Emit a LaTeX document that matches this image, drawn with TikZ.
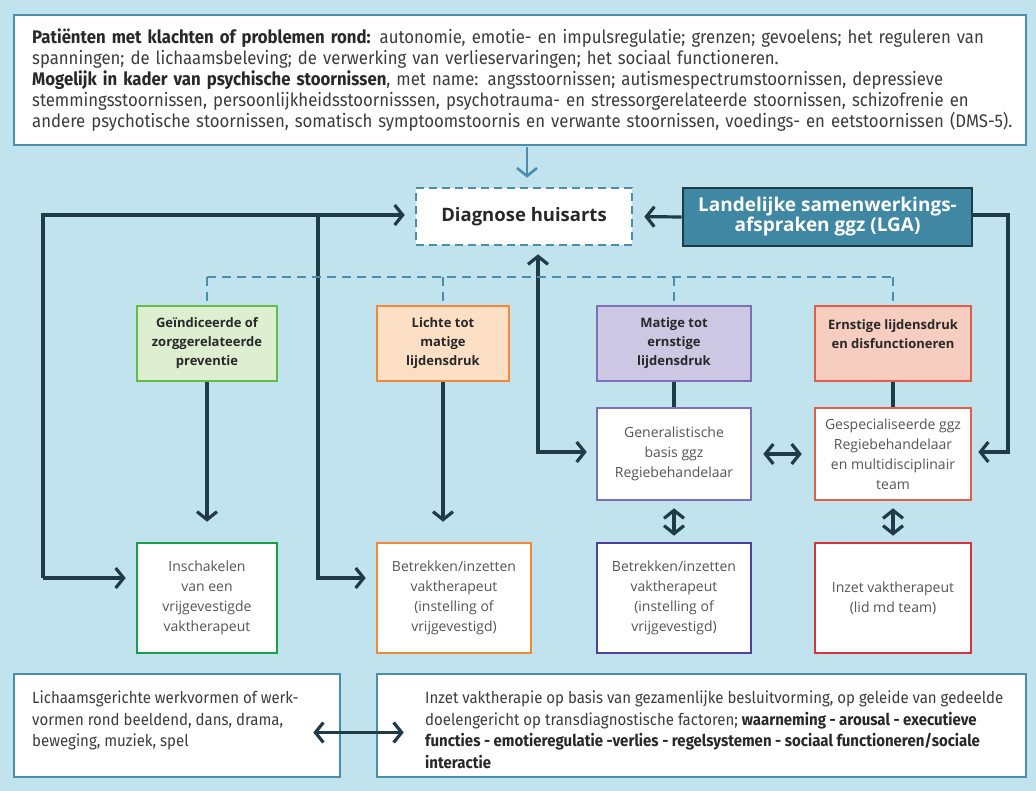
\documentclass[tikz,border=0pt]{standalone}
\usepackage{fontspec}
\setmainfont{Open Sans}
\newfontfamily\cond[FakeStretch=0.92]{Fira Sans}
\usetikzlibrary{arrows.meta}
\definecolor{bg}{RGB}{192,227,238}
\definecolor{teal}{RGB}{74,142,171}
\definecolor{dk}{RGB}{31,59,70}
\definecolor{lgafill}{RGB}{63,135,163}
\definecolor{txt}{RGB}{60,60,60}
\definecolor{txtb}{RGB}{40,40,40}
\definecolor{gray3}{RGB}{85,85,85}
\definecolor{gfill}{RGB}{221,239,208}
\definecolor{gdraw}{RGB}{99,188,71}
\definecolor{gdraw2}{RGB}{27,158,75}
\definecolor{ofill}{RGB}{253,223,198}
\definecolor{odraw}{RGB}{242,136,58}
\definecolor{pfill}{RGB}{204,200,227}
\definecolor{pdraw}{RGB}{126,112,182}
\definecolor{pdraw2}{RGB}{76,66,156}
\definecolor{rfill}{RGB}{247,205,191}
\definecolor{rdraw}{RGB}{227,94,71}
\definecolor{rdraw2}{RGB}{214,51,60}
\begin{document}
\begin{tikzpicture}[x=1pt,y=-1pt,>={Straight Barb[length=8pt,width=20pt]}]
\tikzset{
  tealbox/.style={draw=teal, fill=white, line width=2.6pt, rectangle, inner sep=0pt},
  catbox/.style={rectangle, line width=2.6pt, align=center, inner sep=0pt, minimum height=75pt,
    font=\bfseries\fontsize{13}{19}\selectfont, text=txtb},
  subbox/.style={rectangle, fill=white, line width=2.6pt, align=center, inner sep=0pt,
    font=\fontsize{14}{20}\selectfont, text=gray3},
  conn/.style={draw=dk, line width=3.2pt},
  dashconn/.style={draw=teal, line width=2.6pt, dash pattern=on 9pt off 6pt},
  condtext/.style={anchor=west, align=left, inner sep=0pt, text=txt},
}
\fill[bg] (0,0) rectangle (1036,791);
\useasboundingbox (0,0) rectangle (1036,791);

% top box
\node[tealbox, minimum width=1012pt, minimum height=130pt] (top) at (520,80) {};
\node[condtext, text width=1000pt, font=\cond\fontsize{18.2}{21}\selectfont] (topt) at (32,80)
{\textcolor{txtb}{\textbf{Patiënten met klachten of problemen rond:}} autonomie, emotie- en impulsregulatie; grenzen; gevoelens; het reguleren van\\
spanningen; de lichaamsbeleving; de verwerking van verlieservaringen; het sociaal functioneren.\\
\textcolor{txtb}{\textbf{Mogelijk in kader van psychische stoornissen}}, met name: angsstoornissen; autismespectrumstoornissen, depressieve\\
stemmingsstoornissen, persoonlijkheidsstoornisssen, psychotrauma- en stressorgerelateerde stoornissen, schizofrenie en\\
andere psychotische stoornissen, somatisch symptoomstoornis en verwante stoornissen, voedings- en eetstoornissen (DMS-5).};

% diagnose and LGA
\node[rectangle, fill=white, draw=teal, line width=2.6pt, dash pattern=on 8pt off 5pt,
  minimum width=216pt, minimum height=57pt, font=\bfseries\fontsize{18.5}{20}\selectfont, text=txtb] (diag) at (524,216.5) {Diagnose huisarts};
\node[rectangle, fill=lgafill, draw=dk, line width=2.6pt, minimum width=289pt, minimum height=58pt,
  align=center, font=\bfseries\fontsize{19}{19}\selectfont, text=white] (lga) at (827.5,217)
  {Landelijke samenwerkings-\\afspraken ggz (LGA)};

% category boxes
\node[catbox, fill=gfill, draw=gdraw, minimum width=140pt] (green) at (207,343.5) {Geïndiceerde of\\zorggerelateerde\\preventie};
\node[catbox, fill=ofill, draw=odraw, minimum width=132pt] (orange) at (443,343.5) {Lichte tot\\matige\\lijdensdruk};
\node[catbox, fill=pfill, draw=pdraw, minimum width=154pt] (purple) at (674,343.5) {Matige tot\\ernstige\\lijdensdruk};
\node[catbox, fill=rfill, draw=rdraw, minimum width=156pt] (red) at (893,343.5) {Ernstige lijdensdruk\\en disfunctioneren\\\mbox{}};

% second row
\node[subbox, draw=pdraw, minimum width=154pt, minimum height=92pt] (gen) at (674,454) {Generalistische\\basis ggz\\Regiebehandelaar};
\node[subbox, draw=rdraw, minimum width=156pt, minimum height=92pt] (gesp) at (893,454) {Gespecialiseerde ggz\\Regiebehandelaar\\en multidisciplinair\\team};

% third row
\node[subbox, draw=gdraw2, minimum width=140pt, minimum height=110pt] (insch) at (207,598) {Inschakelen\\van een\\vrijgevestigde\\vaktherapeut};
\node[subbox, draw=odraw, minimum width=154pt, minimum height=110pt] (betr1) at (454,598) {Betrekken/inzetten\\vaktherapeut\\(instelling of\\vrijgevestigd)};
\node[subbox, draw=pdraw2, minimum width=154pt, minimum height=110pt] (betr2) at (674,598) {Betrekken/inzetten\\vaktherapeut\\(instelling of\\vrijgevestigd)};
\node[subbox, draw=rdraw2, minimum width=156pt, minimum height=110pt] (inzet) at (893,598) {Inzet vaktherapeut\\(lid md team)};

% bottom boxes
\node[tealbox, minimum width=326pt, minimum height=103pt] (lb) at (177,725.5) {};
\node[tealbox, minimum width=649pt, minimum height=103pt] (rb) at (701.5,725.5) {};
\node[anchor=north west, align=left, inner sep=0pt, font=\cond\fontsize{16.3}{21.5}\selectfont, text=txt] (lbt) at (32,691)
{Lichaamsgerichte werkvormen of werk-\\vormen rond beeldend, dans, drama,\\beweging, muziek, spel};
\node[anchor=north west, align=left, inner sep=0pt, font=\cond\fontsize{16.3}{21.5}\selectfont, text=txt] (rbt) at (425,691)
{Inzet vaktherapie op basis van gezamenlijke besluitvorming, op geleide van gedeelde\\
doelengericht op transdiagnostische factoren; \textcolor{txtb}{\textbf{waarneming - arousal - executieve}}\\
\textcolor{txtb}{\textbf{functies - emotieregulatie -verlies - regelsystemen - sociaal functioneren/sociale}}\\
\textcolor{txtb}{\textbf{interactie}}};

% coordinates
\coordinate (L1) at (43,215);
\coordinate (L1b) at (43,578);
\coordinate (L2) at (318,215);
\coordinate (L2b) at (318,578);
\coordinate (R1) at (1008,215);
\coordinate (R1b) at (1008,452);
\coordinate (U) at (538,452);
\coordinate (D0) at (207,277);
\coordinate (D1) at (893,277);

% connectors
\draw[draw=teal, line width=2.6pt, ->, shorten <=1pt, shorten >=9pt] (top.south -| 527,0) -- (diag.north -| 527,0);
\draw[conn, ->, shorten >=11pt] (lga.west) -- (diag.east);
\draw[conn, ->, shorten >=6pt] (lga.east |- R1) -- (R1) -- (R1b) -- (gesp.east |- R1b);
\draw[conn, ->, shorten >=10pt] (L1b) -- (L1) -- (diag.west |- L1);
\draw[conn, ->, shorten >=10pt] (L1b) -- (insch.west |- L1b);
\draw[conn, ->, shorten >=10pt] (L2) -- (L2b) -- (betr1.west |- L2b);
\draw[conn, <->, shorten <=8pt, shorten >=9pt] (diag.south -| U) -- (U) -- (gen.west |- U);

% dashed tree
\draw[dashconn] (D0) -- (D1);
\draw[dashconn] (D0) -- (green.north);
\draw[dashconn] (orange.north |- D0) -- (orange.north);
\draw[dashconn] (purple.north |- D0) -- (purple.north);
\draw[dashconn] (D1) -- (red.north);

% vertical connectors
\draw[conn, ->, shorten >=20pt] (green.south) -- (insch.north);
\draw[conn, ->, shorten >=20pt] (orange.south) -- (orange.south |- betr1.north);
\draw[conn] (purple.south) -- (gen.north);
\draw[conn] (red.south) -- (gesp.north);
\draw[conn, <->, shorten <=7pt, shorten >=6pt] (gen.south) -- (betr2.north);
\draw[conn, <->, shorten <=7pt, shorten >=6pt] (gesp.south) -- (inzet.north);
\draw[conn, <->, shorten <=11pt, shorten >=12pt] (gen.east) -- (gesp.west);
\draw[conn, <->] ([xshift=-28pt,yshift=-7pt]lb.east) -- ([xshift=28pt,yshift=-7pt]rb.west);
\end{tikzpicture}
\end{document}
